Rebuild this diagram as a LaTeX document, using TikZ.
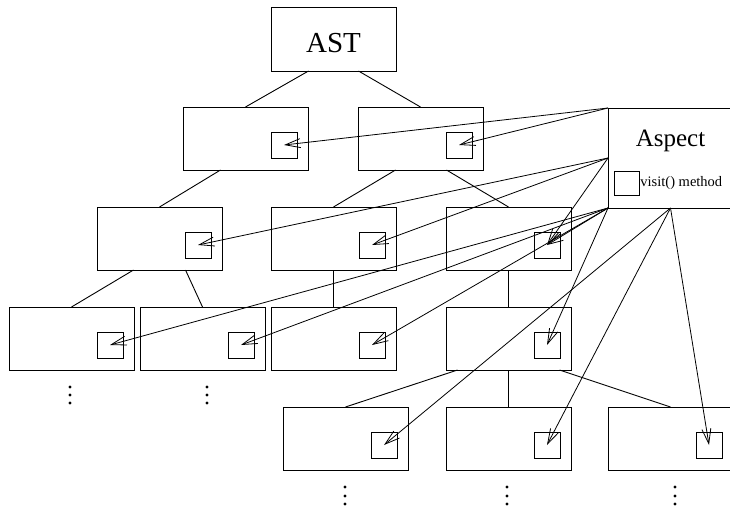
\documentclass[tikz,border=0pt]{standalone}
\usepackage{fontspec}
\setmainfont{Liberation Serif}
\usetikzlibrary{arrows.meta}
\begin{document}
\begin{tikzpicture}[x=1pt,y=-1pt,line width=0.9pt,
  box/.style={draw,minimum width=125pt,minimum height=63pt,inner sep=0pt,outer sep=0pt},
  sbox/.style={draw,minimum width=26pt,minimum height=26pt,inner sep=0pt,outer sep=0pt},
  ptr/.style={-{Straight Barb[length=15pt,width=9pt]},line width=0.8pt},
  vdot/.style={fill,circle,inner sep=0pt,minimum size=3.4pt}]
\useasboundingbox (0,0) rectangle (730,506);
% main boxes
\node[box,minimum height=64pt] (ast) at (333.5,39) {};
\node[anchor=base,font=\fontsize{29}{30}\selectfont] (asttxt) at (333.5,52.7) {AST};
\node[box] (a1) at (245.5,138.5) {};
\node[box] (b1) at (420.5,138.5) {};
\node[box] (a2) at (159.5,238.5) {};
\node[box] (b2) at (333.5,238.5) {};
\node[box] (c2) at (508.5,238.5) {};
\node[box] (a3) at (71.5,338.5) {};
\node[box] (b3) at (202.5,338.5) {};
\node[box] (c3) at (333.5,338.5) {};
\node[box] (d3) at (508.5,338.5) {};
\node[box] (a4) at (345.5,438.5) {};
\node[box] (b4) at (508.5,438.5) {};
\node[box] (c4) at (670.5,438.5) {};
% aspect
\node[box,minimum height=100pt] (asp) at (670.5,158) {};
\node[anchor=base,font=\fontsize{25}{26}\selectfont] (asptxt) at (670.5,146) {Aspect};
\node[sbox,minimum width=25pt,minimum height=24pt] (aspsm) at (626.5,183) {};
\node[anchor=west,inner sep=1pt,font=\fontsize{14.5}{15}\selectfont] (visit) at (aspsm.east) {visit() method};
% small boxes
\foreach \n in {a1,b1,a2,b2,c2,a3,b3,c3,d3,a4,b4,c4}{
  \node[sbox] (\n s) at ([xshift=38.5pt,yshift=-6.5pt]\n.center) {};
}
% tree links
\draw ([xshift=-25pt]ast.south) -- (a1.north);
\draw ([xshift=25pt]ast.south) -- (b1.north);
\draw ([xshift=-25pt]a1.south) -- (a2.north);
\draw ([xshift=-25pt]b1.south) -- (b2.north);
\draw ([xshift=26pt]b1.south) -- (c2.north);
\draw ([xshift=-26pt]a2.south) -- (a3.north);
\draw ([xshift=26pt]a2.south) -- (b3.north);
\draw (b2.south) -- (c3.north);
\draw (c2.south) -- (d3.north);
\draw ([xshift=-51pt]d3.south) -- (a4.north);
\draw (d3.south) -- (b4.north);
\draw ([xshift=51pt]d3.south) -- (c4.north);
% pointers from aspect
\coordinate (p1) at (asp.north west);
\coordinate (p2) at (asp.west);
\coordinate (p3) at (asp.south west);
\coordinate (p4) at (asp.south);
\draw[ptr] (p1) -- (a1s.center);
\draw[ptr] (p1) -- (b1s.center);
\draw[ptr] (p2) -- (a2s.center);
\draw[ptr] (p2) -- (b2s.center);
\draw[ptr] (p2) -- (c2s.center);
\draw[ptr] (p3) -- (c2s.center);
\draw[ptr] (p3) -- (a3s.center);
\draw[ptr] (p3) -- (b3s.center);
\draw[ptr] (p3) -- (c3s.center);
\draw[ptr] (p3) -- (d3s.center);
\draw[ptr] (p4) -- (a4s.center);
\draw[ptr] (p4) -- (b4s.center);
\draw[ptr] (p4) -- (c4s.center);
% continuation dots
\foreach \x in {70,207}{
  \foreach \y in {387,395,403}{ \fill (\x,\y) circle (1.7pt); }
}
\foreach \x in {345,507,675}{
  \foreach \y in {487,496,504}{ \fill (\x,\y) circle (1.7pt); }
}
\end{tikzpicture}
\end{document}
